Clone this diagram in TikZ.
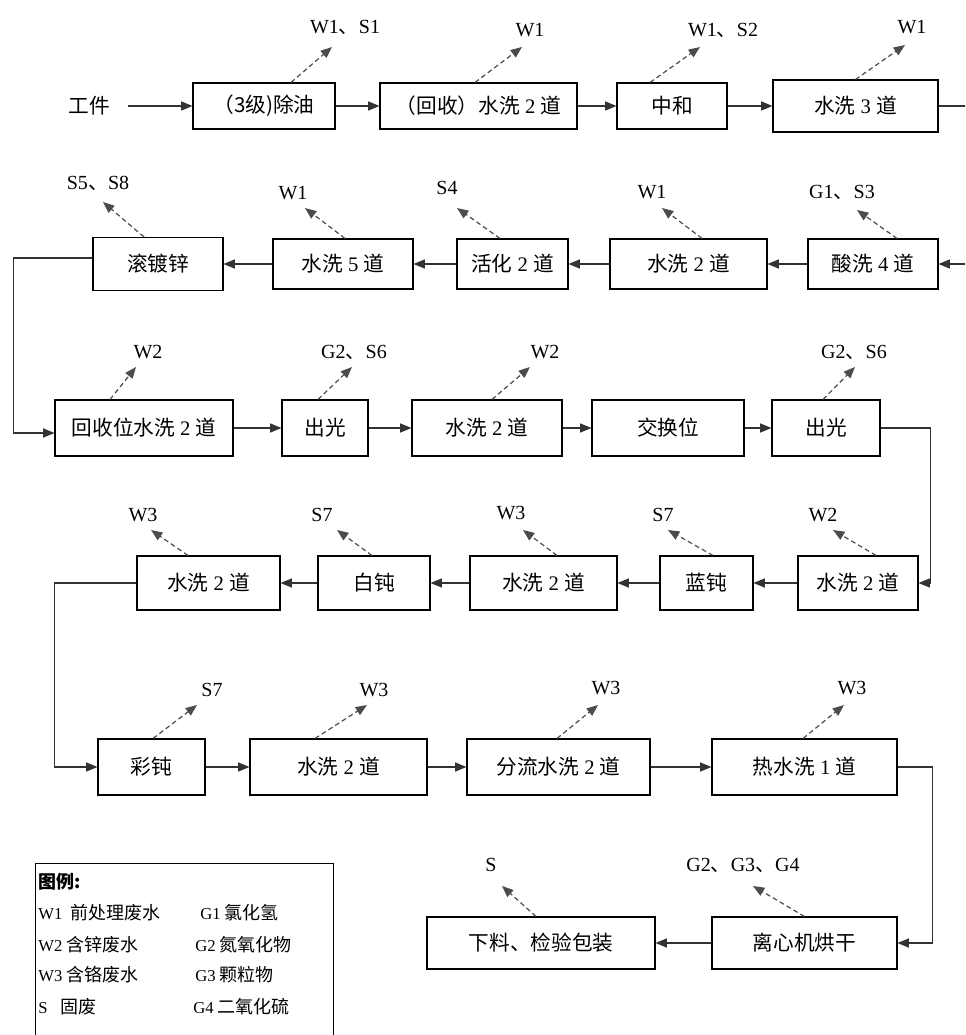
\documentclass[tikz,border=0pt]{standalone}
\usepackage{fontspec}
\setmainfont{Liberation Serif}
\newfontfamily\zh{Noto Sans CJK SC}
\usetikzlibrary{arrows.meta}

\newcommand{\nr}[1]{{\rmfamily\ #1\ }}
\newcommand{\lz}[1]{{\zh\fontsize{13.5}{15}\selectfont #1}}

\begin{document}
\begin{tikzpicture}[
  x=0.75pt, y=-0.75pt,
  >={Triangle[length=8.5pt,width=6.8pt]},
  bw/.style={minimum width=#1*0.75pt},
  bh/.style={minimum height=#1*0.75pt},
  box/.style={draw=black, line width=.8pt, inner sep=0pt, bh=50,
              font=\zh\fontsize{15.5}{18}\selectfont},
  flow/.style={->, draw=black!80, line width=.8pt},
  emit/.style={->, draw=black!70, line width=.9pt, dash pattern=on 3.6pt off 2.4pt},
  lab/.style={inner sep=0pt, font=\fontsize{15}{18}\selectfont},
  leg/.style={inner sep=0pt, anchor=west, font=\fontsize{12.5}{15}\selectfont}
]
\useasboundingbox (0,0) rectangle (965,1035);
\fill[white] (0,0) rectangle (965,1035);
\clip (0,0) rectangle (965,1035);

% ---------- row 1 ----------
\node[inner sep=0pt, font=\zh\fontsize{15.5}{18}\selectfont] (in) at (89,106) {工件};
\node[box, bw=142, bh=46] (b11) at (264,106)   {（3级)除油};
\node[box, bw=197, bh=46] (b12) at (478.5,106) {（回收）水洗\nr{2}道};
\node[box, bw=110, bh=46] (b13) at (672,106)   {中和};
\node[box, bw=165, bh=52] (b14) at (855.5,106) {水洗\nr{3}道};

\node[lab] (l11) at (345,27) {W1{\zh 、}S1};
\node[lab] (l12) at (530,30) {W1};
\node[lab] (l13) at (723,30) {W1{\zh 、}S2};
\node[lab] (l14) at (912,27) {W1};

% ---------- row 2 ----------
\node[box, bw=130, bh=53] (b21) at (158,264)   {滚镀锌};
\node[box, bw=140] (b22) at (343,264)   {水洗\nr{5}道};
\node[box, bw=111] (b23) at (512.5,264) {活化\nr{2}道};
\node[box, bw=157] (b24) at (688.5,264) {水洗\nr{2}道};
\node[box, bw=130] (b25) at (873,264)   {酸洗\nr{4}道};

\node[lab] (l21) at (98,183)  {S5{\zh 、}S8};
\node[lab] (l22) at (293,193) {W1};
\node[lab] (l23) at (447,188) {S4};
\node[lab] (l24) at (652,192) {W1};
\node[lab] (l25) at (842,192) {G1{\zh 、}S3};

% ---------- row 3 ----------
\node[box, bw=178, bh=56] (b31) at (144,428) {回收位水洗\nr{2}道};
\node[box, bw=86,  bh=56] (b32) at (325,428) {出光};
\node[box, bw=150, bh=56] (b33) at (487,428) {水洗\nr{2}道};
\node[box, bw=152, bh=56] (b34) at (668,428) {交换位};
\node[box, bw=108, bh=56] (b35) at (826,428) {出光};

\node[lab] (l31) at (148,352) {W2};
\node[lab] (l32) at (354,352) {G2{\zh 、}S6};
\node[lab] (l33) at (545,352) {W2};
\node[lab] (l35) at (854,352) {G2{\zh 、}S6};

% ---------- row 4 ----------
\node[box, bw=143, bh=54] (b41) at (208.5,583) {水洗\nr{2}道};
\node[box, bw=112, bh=54] (b42) at (374,583)   {白钝};
\node[box, bw=147, bh=54] (b43) at (543.5,583) {水洗\nr{2}道};
\node[box, bw=93,  bh=54] (b44) at (706.5,583) {蓝钝};
\node[box, bw=120, bh=54] (b45) at (858,583)   {水洗\nr{2}道};

\node[lab] (l41) at (143,515) {W3};
\node[lab] (l42) at (322,515) {S7};
\node[lab] (l43) at (511,513) {W3};
\node[lab] (l44) at (663,515) {S7};
\node[lab] (l45) at (823,515) {W2};

% ---------- row 5 ----------
\node[box, bw=107, bh=56] (b51) at (151.5,767) {彩钝};
\node[box, bw=177, bh=56] (b52) at (338.5,767) {水洗\nr{2}道};
\node[box, bw=183, bh=56] (b53) at (558.5,767) {分流水洗\nr{2}道};
\node[box, bw=185, bh=56] (b54) at (804.5,767) {热水洗\nr{1}道};

\node[lab] (l51) at (212,690) {S7};
\node[lab] (l52) at (374,690) {W3};
\node[lab] (l53) at (606,688) {W3};
\node[lab] (l54) at (852,688) {W3};

% ---------- row 6 ----------
\node[box, bw=228, bh=52] (b61) at (541,943)   {下料、检验包装};
\node[box, bw=185, bh=52] (b62) at (804.5,943) {离心机烘干};

\node[lab] (l61) at (491,865) {S};
\node[lab] (l62) at (743,865) {G2{\zh 、}G3{\zh 、}G4};

% ---------- process flow ----------
\draw[flow] ([shift={(18,0)}]in.east) -- (b11);
\draw[flow] (b11) -- (b12);
\draw[flow] (b12) -- (b13);
\draw[flow] (b13) -- (b14);
\draw[flow] (b14.east) -- ++(40,0) |- (b25.east);
\draw[flow] (b25) -- (b24);
\draw[flow] (b24) -- (b23);
\draw[flow] (b23) -- (b22);
\draw[flow] (b22) -- (b21);
\draw[flow] ([shift={(0,-6)}]b21.west) -- ++(-79,0) |- ([shift={(0,5)}]b31.west);
\draw[flow] (b31) -- (b32);
\draw[flow] (b32) -- (b33);
\draw[flow] (b33) -- (b34);
\draw[flow] (b34) -- (b35);
\draw[flow] (b35.east) -- ++(50,0) |- (b45.east);
\draw[flow] (b45) -- (b44);
\draw[flow] (b44) -- (b43);
\draw[flow] (b43) -- (b42);
\draw[flow] (b42) -- (b41);
\draw[flow] (b41.west) -- ++(-82,0) |- (b51.west);
\draw[flow] (b51) -- (b52);
\draw[flow] (b52) -- (b53);
\draw[flow] (b53) -- (b54);
\draw[flow] (b54.east) -- ++(35,0) |- (b62.east);
\draw[flow] (b62) -- (b61);

% ---------- emissions ----------
\foreach \b/\dx/\l/\hx/\hy in {
  b11/27/l11/-13/20, b12/-3.5/l12/-8/17, b13/-22/l13/-23/17, b14/0/l14/-7/18,
  b21/-14/l21/5/19, b22/2/l22/12/15, b23/-12.5/l23/10/20, b24/13.5/l24/10/16, b25/24/l25/15/18,
  b31/-34/l31/-12/15, b32/-7/l32/-2/15, b33/5/l33/-15/15, b35/-3/l35/1/15,
  b41/-20.5/l41/8/15, b42/-2/l42/15/15, b43/13.5/l43/12/17, b44/6.5/l44/5/15, b45/18/l45/10/15,
  b51/1.5/l51/-15/15, b52/-23.5/l52/-7/15, b53/-1.5/l53/-8/17, b54/-1.5/l54/-8/17,
  b61/-5/l61/11/21, b62/0/l62/10/21}
  \draw[emit] ([shift={(\dx,0)}]\b.north) -- ([shift={(\hx,\hy)}]\l.center);

% ---------- legend ----------
\node[draw=black, line width=.8pt, anchor=north west, inner sep=0pt,
      bw=298, bh=185] (legend) at (35,863) {};
\node[leg] (lg0) at (38,882)  {\zh\fontsize{13.5}{15}\selectfont\bfseries 图例:};
\node[leg] (lg1) at (38,913)  {W1\ \ \lz{前处理废水}};
\node[leg] (lg2) at (38,945)  {W2 \lz{含锌废水}};
\node[leg] (lg3) at (38,975)  {W3 \lz{含铬废水}};
\node[leg] (lg4) at (38,1007) {S\ \ \ \lz{固废}};
\node[leg] (lg5) at (200,913) {G1 \lz{氯化氢}};
\node[leg] (lg6) at (195,945) {G2 \lz{氮氧化物}};
\node[leg] (lg7) at (195,975) {G3 \lz{颗粒物}};
\node[leg] (lg8) at (193,1007) {G4 \lz{二氧化硫}};

\end{tikzpicture}
\end{document}
